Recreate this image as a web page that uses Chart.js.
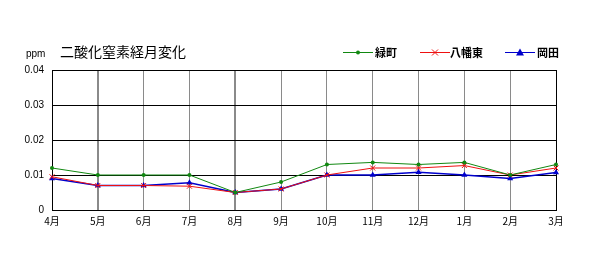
<!DOCTYPE html>
<html><head><meta charset="utf-8">
<script src="https://cdn.jsdelivr.net/npm/chart.js@4"></script>
<style>html,body{margin:0;padding:0;background:#fff;}#wrap{width:602px;height:270px;position:relative;}</style>
</head><body><div id="wrap"><canvas id="c" width="602" height="270"></canvas></div>
<script>
const months = ['4月','5月','6月','7月','8月','9月','10月','11月','12月','1月','2月','3月'];
const yTicks = [0, 0.01, 0.02, 0.03, 0.04];
const midorimachi = [0.012,0.010,0.010,0.010,0.005,0.008,0.013,0.0136,0.013,0.0136,0.010,0.013];
const yahatahigashi = [0.0095,0.007,0.007,0.0068,0.005,0.006,0.010,0.012,0.012,0.0127,0.010,0.012];
const okada = [0.009,0.007,0.007,0.0078,0.005,0.006,0.010,0.010,0.0108,0.010,0.009,0.0107];
const seriesNames = ['緑町','八幡東','岡田'];
const colors = ['#118811','#ee1111','#0000cc'];
const jp = '"Noto Sans CJK JP", sans-serif';

const overlay = {
  id:'overlay',
  afterDraw(chart){
    const ctx = chart.ctx;
    ctx.save();
    ctx.fillStyle='#000';
    ctx.textBaseline='middle';
    ctx.font='10px "Liberation Sans", sans-serif';
    ctx.fillText('ppm', 26, 54);
    ctx.font='14px '+jp;
    ctx.fillText('二酸化窒素経月変化', 60, 52);
    const items = [{x:343,t:375},{x:420,t:450},{x:505,t:537}];
    items.forEach((it,i)=>{
      ctx.strokeStyle=colors[i]; ctx.fillStyle=colors[i]; ctx.lineWidth=1;
      ctx.beginPath(); ctx.moveTo(it.x,52.5); ctx.lineTo(it.x+30,52.5); ctx.stroke();
      const cx=it.x+15, cy=52.5;
      if(i===0){ctx.beginPath();ctx.arc(cx,cy,2,0,Math.PI*2);ctx.fill();}
      else if(i===1){ctx.beginPath();ctx.moveTo(cx-3,cy-3);ctx.lineTo(cx+3,cy+3);ctx.moveTo(cx+3,cy-3);ctx.lineTo(cx-3,cy+3);ctx.stroke();}
      else {ctx.beginPath();ctx.moveTo(cx,cy-4);ctx.lineTo(cx+4,cy+3);ctx.lineTo(cx-4,cy+3);ctx.closePath();ctx.fill();}
      ctx.fillStyle='#000';
      ctx.font='bold 11px '+jp;
      ctx.fillText(seriesNames[i], it.t, 53);
    });
    ctx.restore();
  }
};

new Chart(document.getElementById('c'), {
  type:'line',
  data:{labels:months, datasets:[
    {label:seriesNames[0], data:midorimachi, borderColor:colors[0], backgroundColor:colors[0], borderWidth:1, pointStyle:'circle', pointRadius:2, pointBorderWidth:0},
    {label:seriesNames[1], data:yahatahigashi, borderColor:colors[1], backgroundColor:colors[1], borderWidth:1, pointStyle:'crossRot', pointRadius:3.5, pointBorderWidth:1},
    {label:seriesNames[2], data:okada, borderColor:colors[2], backgroundColor:colors[2], borderWidth:1.5, pointStyle:'triangle', pointRadius:3.5, pointBorderWidth:0}
  ]},
  options:{
    responsive:false, animation:false, devicePixelRatio:1,
    layout:{padding:{top:70,right:46,left:0,bottom:0}},
    plugins:{legend:{display:false}, title:{display:false}, tooltip:{enabled:false}},
    elements:{line:{tension:0}},
    scales:{
      x:{
        offset:false,
        grid:{
          color:(c)=> (c.index===0||c.index===11)?'#000':'#8a8a8a',
          lineWidth:(c)=> (c.index===1||c.index===4)?2:1,
          drawTicks:false
        },
        border:{color:'#000', width:1},
        ticks:{color:'#000', font:{family:jp, size:10}, padding:5, maxRotation:0, autoSkip:false},
        afterFit(s){ s.height = 60; }
      },
      y:{
        min:0, max:0.04,
        afterBuildTicks(s){ s.ticks = yTicks.map(v=>({value:v})); },
        grid:{color:'#000', lineWidth:1, drawTicks:false},
        border:{color:'#000', width:1},
        ticks:{color:'#000', font:{family:'"Liberation Sans", sans-serif', size:10}, padding:8,
          callback:(v)=> v===0?'0':v.toFixed(2)},
        afterFit(s){ s.width = 52; }
      }
    }
  },
  plugins:[overlay]
});
</script></body></html>
